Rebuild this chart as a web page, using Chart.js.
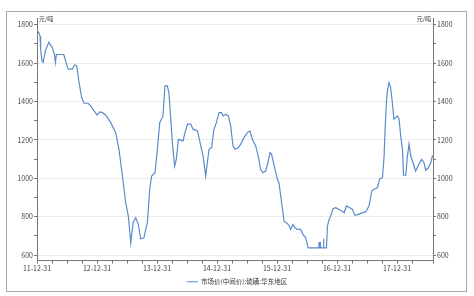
<!DOCTYPE html>
<html lang="zh">
<head>
  <meta charset="UTF-8" />
  <title>市场价(中间价):硫磺:华东地区</title>
  <script src="https://cdn.jsdelivr.net/npm/chart.js"></script>
  <style>
    html, body { margin: 0; padding: 0; background: #fff; }
    .frame {
      position: absolute; left: 6px; top: 11px; width: 459px; height: 279px;
      border: 1px solid #a8a8a8;
    }
    .wrap { position: absolute; left: 0; top: 0; width: 474px; height: 296px; }
  </style>
</head>
<body>
  <div class="frame"></div>
  <div class="wrap"><canvas id="chart" width="474" height="296"></canvas></div>
  <script>
    // price series (yuan / ton)
    const dates = [
      '2011-12-31', '2012-01-13', '2012-01-19', '2012-01-22', '2012-01-30', '2012-02-06', '2012-02-20',
      '2012-03-12', '2012-04-01', '2012-04-15', '2012-04-21', '2012-04-27', '2012-06-11', '2012-06-22',
      '2012-07-08', '2012-08-01', '2012-08-16', '2012-08-29', '2012-09-12', '2012-09-28', '2012-10-12',
      '2012-11-06', '2012-11-22', '2012-12-12', '2012-12-31',
      '2013-01-17', '2013-02-02', '2013-02-22', '2013-03-24', '2013-04-23', '2013-05-13', '2013-06-03',
      '2013-06-23', '2013-07-09', '2013-07-24', '2013-08-07', '2013-08-23', '2013-09-08', '2013-09-22',
      '2013-10-12', '2013-10-23', '2013-11-02', '2013-11-16', '2013-11-28', '2013-12-18',
      '2014-01-02', '2014-01-16', '2014-02-05', '2014-02-17', '2014-03-03', '2014-03-13', '2014-03-23',
      '2014-04-03', '2014-04-17', '2014-04-27', '2014-05-10', '2014-06-07', '2014-06-19', '2014-07-04',
      '2014-07-24', '2014-08-07', '2014-09-03', '2014-09-23', '2014-10-07', '2014-10-23', '2014-11-02',
      '2014-11-12', '2014-11-28', '2014-12-12', '2014-12-27',
      '2015-01-12', '2015-01-27', '2015-02-06', '2015-02-22', '2015-03-10', '2015-03-24', '2015-04-07',
      '2015-04-19', '2015-05-10', '2015-05-24', '2015-06-13', '2015-07-04', '2015-07-19', '2015-08-03',
      '2015-08-23', '2015-09-08', '2015-09-22', '2015-10-06', '2015-10-23', '2015-11-06', '2015-11-18',
      '2015-11-28', '2015-12-12',
      '2016-01-02', '2016-01-12', '2016-01-28', '2016-02-12', '2016-02-26', '2016-03-13', '2016-03-23',
      '2016-04-06', '2016-04-19', '2016-05-03', '2016-05-23', '2016-06-06', '2016-06-23', '2016-07-07',
      '2016-09-11', '2016-09-12', '2016-09-13', '2016-09-19', '2016-09-20', '2016-09-21', '2016-10-09',
      '2016-10-10', '2016-10-11', '2016-10-27', '2016-11-02', '2016-11-12', '2016-11-22', '2016-12-06',
      '2016-12-23',
      '2017-01-12', '2017-01-28', '2017-02-12', '2017-02-26', '2017-03-18', '2017-04-03', '2017-04-19',
      '2017-05-10', '2017-06-03', '2017-06-23', '2017-07-13', '2017-07-30', '2017-08-13', '2017-09-02',
      '2017-09-17', '2017-10-03', '2017-10-13', '2017-10-19', '2017-10-27', '2017-11-02', '2017-11-12',
      '2017-11-22', '2017-12-02', '2017-12-12',
      '2018-01-02', '2018-01-12', '2018-01-22', '2018-02-02', '2018-02-08', '2018-02-22', '2018-03-04',
      '2018-03-14', '2018-03-24', '2018-04-07', '2018-04-23', '2018-05-13', '2018-05-30', '2018-06-13',
      '2018-06-23', '2018-07-10', '2018-07-24', '2018-08-04'
    ];
    const prices = [
      1770, 1755, 1740, 1673, 1612, 1603, 1664,
      1708, 1682, 1647, 1603, 1645, 1645, 1612,
      1569, 1569, 1590, 1585, 1499, 1421, 1391,
      1391, 1377, 1351, 1330,
      1346, 1342, 1329, 1290, 1238, 1151, 1012,
      873, 803, 664, 769, 795, 760, 685,
      690, 734, 769, 943, 1012, 1029,
      1151, 1290, 1325, 1482, 1482, 1447, 1325,
      1186, 1064, 1099, 1203, 1195, 1238, 1282,
      1282, 1256, 1247, 1169, 1116, 1012, 1081,
      1151, 1160, 1256, 1290,
      1342, 1342, 1325, 1334, 1325, 1273, 1169,
      1151, 1160, 1178, 1212, 1238, 1247, 1203,
      1169, 1116, 1047, 1029, 1038, 1081, 1134,
      1125, 1073,
      995, 977, 873, 777, 769, 755, 734,
      760, 742, 734, 734, 708, 690, 638,
      638, 668, 638, 638, 668, 638, 638,
      685, 638, 638, 751, 786, 803, 842,
      847,
      838, 830, 821, 856, 847, 838, 807,
      812, 821, 825, 856, 934, 943, 951,
      998, 1003, 1116, 1256, 1395, 1456, 1499,
      1473, 1395, 1308,
      1325, 1308, 1221, 1151, 1016, 1016, 1116,
      1178, 1116, 1081, 1038, 1073, 1099, 1081,
      1042, 1055, 1081, 1120
    ];
    const seriesName = '市场价(中间价):硫磺:华东地区';
    const unitLabel = '元/吨';
    const startYear = 2011;          // x axis starts at 11-12-31
    const xMax = 6.6;                // years after the start
    const yMin = 572, yMax = 1835;

    const DAY = 86400000;
    const base = Date.UTC(startYear, 11, 31);
    function toYears(s) {
      const p = s.split('-').map(Number);
      return (Date.UTC(p[0], p[1] - 1, p[2]) - base) / (365.25 * DAY);
    }
    const points = dates.map((d, i) => ({ x: toYears(d), y: prices[i] }));

    const FONT = "'Noto Sans CJK SC', 'DejaVu Sans', sans-serif";
    const tickFont = { family: FONT, size: 7 };

    function yTick(v) { return v % 200 === 0 ? v : ''; }
    function gridColor(ctx) {
      return ctx.tick && ctx.tick.value % 200 === 0 ? '#ececec' : 'rgba(0,0,0,0)';
    }

    const unitPlugin = {
      id: 'units',
      afterDraw(chart) {
        const c = chart.ctx, a = chart.chartArea;
        c.save();
        c.font = "6px " + FONT;
        c.fillStyle = '#333';
        c.textBaseline = 'middle';
        c.textAlign = 'left';
        c.fillText(unitLabel, a.left + 2, a.top + 1);
        c.textAlign = 'right';
        c.fillText(unitLabel, a.right - 2, a.top + 1);
        c.restore();
      }
    };

    new Chart(document.getElementById('chart'), {
      type: 'line',
      data: {
        datasets: [{
          label: seriesName,
          data: points,
          borderColor: '#5b8bcb',
          backgroundColor: '#5b8bcb',
          borderWidth: 1.2,
          pointRadius: 0,
          tension: 0,
          fill: false
        }]
      },
      options: {
        responsive: false,
        animation: false,
        layout: { padding: { top: 18, left: 0, right: 0, bottom: 1 } },
        plugins: {
          tooltip: { enabled: false },
          legend: {
            position: 'bottom',
            labels: {
              font: { family: FONT, size: 6.5 },
              color: '#333',
              usePointStyle: true,
              pointStyle: 'line',
              pointStyleWidth: 11,
              padding: 4
            }
          }
        },
        scales: {
          x: {
            type: 'linear',
            min: 0,
            max: xMax,
            afterFit(s) { s.height = 14; },
            border: { color: '#777', width: 1 },
            grid: { drawOnChartArea: false, tickLength: 3, tickColor: '#777' },
            ticks: {
              stepSize: 0.25,
              autoSkip: false,
              maxRotation: 0,
              padding: 1,
              font: tickFont,
              color: '#444',
              callback(v) {
                if (Math.abs(v - Math.round(v)) > 1e-6) return '';
                return (startYear - 2000 + Math.round(v)) + '-12-31';
              }
            }
          },
          y: {
            position: 'left',
            min: yMin,
            max: yMax,
            afterFit(s) { s.width = 37; },
            border: { color: '#777', width: 1 },
            grid: { color: gridColor, tickLength: 3, tickColor: '#777' },
            ticks: { stepSize: 100, includeBounds: false, autoSkip: false, padding: 1, font: tickFont, color: '#444', callback: yTick }
          },
          y2: {
            position: 'right',
            min: yMin,
            max: yMax,
            afterFit(s) { s.width = 41; },
            border: { color: '#777', width: 1 },
            grid: { drawOnChartArea: false, tickLength: 3, tickColor: '#777' },
            ticks: { stepSize: 100, includeBounds: false, autoSkip: false, padding: 1, font: tickFont, color: '#444', callback: yTick }
          }
        }
      },
      plugins: [unitPlugin]
    });
  </script>
</body>
</html>
